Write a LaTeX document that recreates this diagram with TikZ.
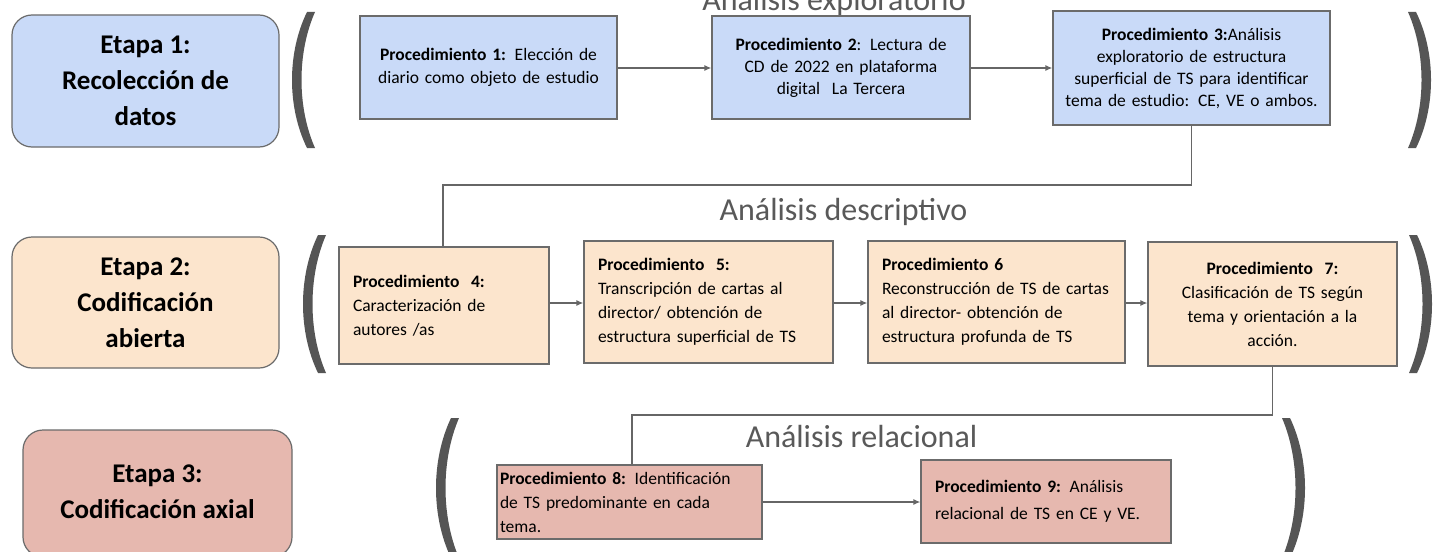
\documentclass[tikz,border=0pt]{standalone}
\usepackage{fontspec}
\setmainfont{Carlito}
\usetikzlibrary{arrows.meta}
\definecolor{bluef}{HTML}{C9DAF8}
\definecolor{peachf}{HTML}{FCE5CD}
\definecolor{redf}{HTML}{E6B8AF}
\definecolor{bordercol}{HTML}{6B6B6B}
\definecolor{parcol}{HTML}{555555}
\definecolor{titlecol}{HTML}{595959}
\definecolor{conncol}{HTML}{666666}
\newcommand\myparen[4]{%
 \begin{scope}[shift={(#1,#2)},xscale=#4]
 \fill[parcol] (16,0) .. controls (-4,0.3*#3) and (-4,0.7*#3) .. (16,#3) -- (24,#3) .. controls (6,0.7*#3) and (6,0.3*#3) .. (24,0) -- cycle;
 \end{scope}}
\tikzset{
 etapa/.style={draw=bordercol, line width=1.2pt, rounded corners=20pt, align=center, inner sep=0pt,
   font=\fontsize{27}{36}\selectfont\bfseries, text=black},
 etapabg/.style={draw=bordercol, line width=1.2pt, rounded corners=20pt},
 etapatxt/.style={align=center, inner sep=0pt, font=\fontsize{27}{36}\selectfont\bfseries, text=black},
 proc/.style={draw=bordercol, line width=1.2pt, inner ysep=0pt, inner xsep=14pt,
   font=\fontsize{17.5}{24}\selectfont, text=black},
 titletxt/.style={font=\fontsize{32}{38}\selectfont, text=titlecol, anchor=base, inner sep=0pt},
 conn/.style={draw=conncol, line width=1.3pt},
 arr/.style={conn, -{Latex[length=7pt,width=6pt]}}
}
\begin{document}
\begin{tikzpicture}[x=1pt,y=-1pt]
\clip (0,0) rectangle (1439,551);
\fill[white] (0,0) rectangle (1439,551);

% titles
\node[titletxt] (t1) at (834,11) {Análisis exploratorio};
\node[titletxt] (t2) at (843.5,220) {Análisis descriptivo};
\node[titletxt] (t3) at (861.5,447) {Análisis relacional};

% etapas
\node[etapa, fill=bluef, minimum width=267pt, minimum height=132pt] (e1) at (145.5,81) {Etapa 1:\\ Recolección de\\ datos};
\node[etapa, fill=peachf, minimum width=267pt, minimum height=131pt] (e2) at (145.5,302.5) {Etapa 2:\\ Codificación\\ abierta};
\filldraw[etapabg, fill=redf] (23,430) rectangle (292,557);
\node[etapatxt] (e3) at (157.5,491.5) {Etapa 3:\\ Codificación axial};

% row 1
\node[proc, fill=bluef, minimum width=257pt, minimum height=103pt, text width=229pt, align=center, font=\fontsize{17.5}{23}\selectfont] (p1) at (488.5,67.5)
 {\textbf{Procedimiento 1:} Elección de\\ diario como objeto de estudio};
\node[proc, fill=bluef, minimum width=258pt, minimum height=103pt, text width=230pt, align=center, font=\fontsize{17.5}{22}\selectfont] (p2) at (841,67.5)
 {\textbf{Procedimiento 2}: Lectura de\\ CD de 2022 en plataforma\\ digital\ \ La Tercera};
\node[proc, fill=bluef, minimum width=277pt, minimum height=114pt, text width=257pt, inner xsep=10pt, align=center, font=\fontsize{17.5}{22}\selectfont] (p3) at (1191.5,68)
 {\textbf{Procedimiento 3:}Análisis\\ exploratorio de estructura\\ superficial de TS para identificar\\ tema de estudio: CE, VE o ambos.};

% row 2
\node[proc, fill=peachf, minimum width=210pt, minimum height=117pt, text width=182pt, align=left] (p4) at (444,305.5)
 {\textbf{Procedimiento\ \ 4:}\\ Caracterización de\\ autores /as};
\node[proc, fill=peachf, minimum width=249pt, minimum height=122pt, text width=221pt, align=left] (p5) at (708.5,302)
 {\textbf{Procedimiento\ \ 5:}\\ Transcripción de cartas al\\ director/ obtención de\\ estructura superficial de TS};
\node[proc, fill=peachf, minimum width=257pt, minimum height=122pt, text width=229pt, align=left] (p6) at (996.5,302)
 {\textbf{Procedimiento 6}\\ Reconstrucción de TS de cartas\\ al director- obtención de\\ estructura profunda de TS};
\node[proc, fill=peachf, minimum width=249pt, minimum height=124pt, text width=229pt, inner xsep=10pt, align=center] (p7) at (1272.5,304)
 {\textbf{Procedimiento\ \ 7:}\\ Clasificación de TS según\\ tema y orientación a la\\ acción.};

% row 3
\node[proc, fill=redf, minimum width=265pt, minimum height=74pt, text width=259pt, inner xsep=3pt, align=left] (p8) at (629.5,502)
 {\textbf{Procedimiento 8:} Identificación\\ de TS predominante en cada\\ tema.};
\node[proc, fill=redf, minimum width=250pt, minimum height=83pt, text width=222pt, align=left, font=\fontsize{17.5}{27}\selectfont] (p9) at (1046,501.5)
 {\textbf{Procedimiento 9:} Análisis\\ relacional de TS en CE y VE.};

% parentheses
\myparen{291}{12}{136}{1}
\myparen{1432}{12}{136}{-1}
\myparen{302}{235}{138}{1}
\myparen{1433}{235}{138}{-1}
\myparen{435}{418}{140}{1}
\myparen{1306}{418}{140}{-1}

% connectors
\draw[arr] (p1.east |- 0,68) -- (p2.west |- 0,68);
\draw[arr] (p2.east |- 0,68) -- (p3.west |- 0,68);
\coordinate (k1) at (1191.5,185);
\coordinate (k2) at (443,185);
\draw[conn] (p3.south) -- (k1) -- (k2) -- (p4.north -| k2);
\draw[arr] (p4.east |- 0,303) -- (p5.west |- 0,303);
\draw[arr] (p5.east |- 0,303) -- (p6.west |- 0,303);
\draw[arr] (p6.east |- 0,303) -- (p7.west |- 0,303);
\coordinate (k3) at (1272.5,415);
\coordinate (k4) at (632,415);
\draw[conn] (p7.south) -- (k3) -- (k4) -- (p8.north -| k4);
\draw[arr] (p8.east |- 0,502) -- (p9.west |- 0,502);
\end{tikzpicture}
\end{document}
